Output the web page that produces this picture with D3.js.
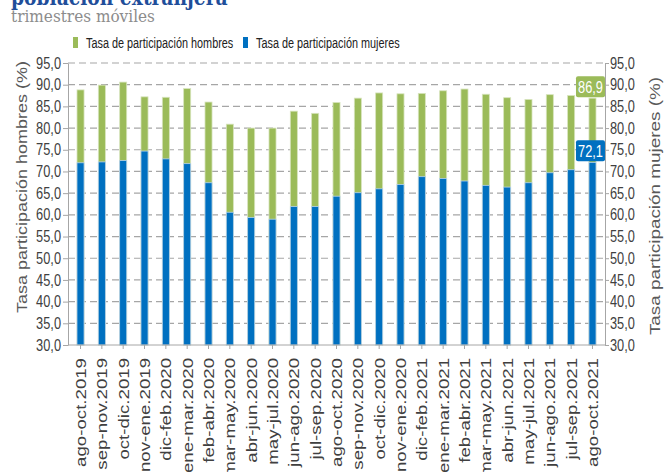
<!DOCTYPE html>
<html lang="es">
<head>
<meta charset="utf-8">
<title>Tasa de participación población extranjera</title>
<script src="https://cdn.jsdelivr.net/npm/d3@7"></script>
<style>
  body { margin: 0; background: #fff; }
  svg text { font-family: "Liberation Sans", Arial, sans-serif; }
</style>
</head>
<body>
<script>
// trimestres moviles
var periodos = ["ago-oct.2019", "sep-nov.2019", "oct-dic.2019", "nov-ene.2019", "dic-feb.2020",
  "ene-mar.2020", "feb-abr.2020", "mar-may.2020", "abr-jun.2020", "may-jul.2020",
  "jun-ago.2020", "jul-sep.2020", "ago-oct.2020", "sep-nov.2020", "oct-dic.2020",
  "nov-ene.2020", "dic-feb.2021", "ene-mar.2021", "feb-abr.2021", "mar-may.2021",
  "abr-jun.2021", "may-jul.2021", "jun-ago.2021", "jul-sep.2021", "ago-oct.2021"];

var hombres = [88.8, 89.9, 90.6, 87.2, 87.1, 89.1, 86.0, 80.9, 80.0, 80.0,
  83.9, 83.4, 85.9, 86.9, 88.1, 87.9, 88.0, 88.6, 89.0, 87.8,
  87.0, 86.6, 87.7, 87.5, 86.9];

var mujeres = [72.0, 72.2, 72.5, 74.7, 72.9, 71.8, 67.4, 60.6, 59.4, 59.0,
  61.9, 61.9, 64.3, 65.1, 66.0, 67.0, 68.8, 68.4, 67.8, 66.8,
  66.4, 67.4, 69.7, 70.4, 72.1];

var yTicks = [30, 35, 40, 45, 50, 55, 60, 65, 70, 75, 80, 85, 90, 95];

var W = 664, H = 472;
var mLeft = 68, mRight = 605, mTop = 63, mBottom = 345;
var verde = "#9bbb59", azul = "#0070c0";
var fmt = function(v) { return d3.format(".1f")(v).replace(".", ","); };

// el grafico original esta estirado en vertical: los textos se comprimen en x
var sx = 0.8;

var svg = d3.select("body").append("svg")
  .attr("width", W)
  .attr("height", H);

var x = d3.scaleBand()
  .domain(periodos)
  .range([69, 604])
  .paddingInner(0.67)
  .paddingOuter(0.375);

var y = d3.scaleLinear()
  .domain([30, 95])
  .range([mBottom, mTop]);

// titulo (cortado arriba)
svg.append("text")
  .attr("transform", "translate(11,5) scale(0.85,1)")
  .style("font-family", "'DejaVu Serif', 'Liberation Serif', serif")
  .style("font-weight", "bold")
  .style("font-size", "22px")
  .attr("fill", "#1f4e9a")
  .text("población extranjera");

svg.append("text")
  .attr("transform", "translate(11,22) scale(0.9,1)")
  .style("font-family", "'DejaVu Serif', 'Liberation Serif', serif")
  .style("font-size", "17px")
  .attr("fill", "#8c8c8c")
  .text("trimestres móviles");

// leyenda
var leyenda = [
  { nombre: "Tasa de participación hombres", color: verde, x: 73 },
  { nombre: "Tasa de participación mujeres", color: azul, x: 243 }
];
var lg = svg.append("g").selectAll("g").data(leyenda).enter().append("g")
  .attr("transform", function(d) { return "translate(" + d.x + ",37)"; });
lg.append("rect").attr("width", 5).attr("height", 11).attr("fill", function(d) { return d.color; });
lg.append("text")
  .attr("transform", "translate(13,11) scale(0.75,1)")
  .style("font-size", "14.5px").attr("fill", "#222")
  .text(function(d) { return d.nombre; });

// rejilla
svg.append("g").selectAll("line").data(yTicks.slice(1)).enter().append("line")
  .attr("x1", mLeft).attr("x2", mRight)
  .attr("y1", function(d) { return y(d); })
  .attr("y2", function(d) { return y(d); })
  .attr("stroke", "#a6a6a6")
  .attr("stroke-width", 1.2)
  .attr("stroke-dasharray", "7,4");

// barras hombres
svg.append("g").selectAll("rect").data(hombres).enter().append("rect")
  .attr("x", function(d, i) { return x(periodos[i]); })
  .attr("y", function(d) { return y(d); })
  .attr("width", x.bandwidth())
  .attr("height", function(d) { return y(30) - y(d); })
  .attr("fill", verde)
  .attr("stroke", "#d7e4bd")
  .attr("stroke-width", 0.8);

// barras mujeres
svg.append("g").selectAll("rect").data(mujeres).enter().append("rect")
  .attr("x", function(d, i) { return x(periodos[i]); })
  .attr("y", function(d) { return y(d); })
  .attr("width", x.bandwidth())
  .attr("height", function(d) { return y(30) - y(d); })
  .attr("fill", azul)
  .attr("stroke", "#b9d3ea")
  .attr("stroke-width", 0.8);

// ejes
var axisColor = "#a6a6a6", textColor = "#404040";
function estilo(g) {
  g.selectAll("path, line").attr("stroke", axisColor);
  g.selectAll("text").attr("fill", textColor)
    .style("font-family", "'Liberation Sans', Arial, sans-serif");
}

var yLeft = svg.append("g")
  .attr("transform", "translate(" + mLeft + ",0)")
  .call(d3.axisLeft(y).tickValues(yTicks).tickFormat(fmt).tickSize(5).tickSizeOuter(0))
  .call(estilo);
yLeft.selectAll("text")
  .style("font-size", "16px")
  .attr("x", -7 / sx)
  .attr("transform", "scale(" + sx + ",1)");

var yRight = svg.append("g")
  .attr("transform", "translate(" + mRight + ",0)")
  .call(d3.axisRight(y).tickValues(yTicks).tickFormat(fmt).tickSize(4).tickSizeOuter(0))
  .call(estilo);
yRight.selectAll("text")
  .style("font-size", "16px")
  .attr("x", 5 / sx)
  .attr("transform", "scale(" + sx + ",1)");

var xAxis = svg.append("g")
  .attr("transform", "translate(0," + mBottom + ")")
  .call(d3.axisBottom(x).tickSize(4).tickSizeOuter(0))
  .call(estilo);
xAxis.select(".domain").attr("d", "M" + mLeft + ",0H" + mRight);
var xText = xAxis.selectAll("text")
  .style("font-size", "15.5px")
  .attr("text-anchor", "end")
  .attr("dy", "0.35em")
  .attr("y", 0);
// estirar las etiquetas a lo largo para que "ago-oct.2019" mida ~109px
var largo = xText.node().getComputedTextLength();
var sRot = 109 / largo;
xText
  .attr("transform", "rotate(-90) scale(" + sRot + ",1)")
  .attr("x", -13 / sRot);

// titulos de ejes
svg.append("text")
  .attr("transform", "translate(27,187) rotate(-90) scale(1.2,1)")
  .attr("text-anchor", "middle")
  .style("font-size", "15px").attr("fill", "#595959")
  .text("Tasa participación hombres (%)");

svg.append("text")
  .attr("transform", "translate(660,206) rotate(-90) scale(1.26,1)")
  .attr("text-anchor", "middle")
  .style("font-size", "15px").attr("fill", "#595959")
  .text("Tasa participación mujeres (%)");

// etiquetas del ultimo periodo
var ultimo = periodos[periodos.length - 1];
var etiquetas = [
  { v: hombres[hombres.length - 1], color: verde },
  { v: mujeres[mujeres.length - 1], color: azul }
];
var eg = svg.append("g").selectAll("g").data(etiquetas).enter().append("g")
  .attr("transform", function(d) {
    return "translate(" + (x(ultimo) + x.bandwidth() / 2 - 2) + "," + (y(d.v) - 1) + ")";
  });
eg.append("rect")
  .attr("x", -14.5).attr("y", -21)
  .attr("width", 29).attr("height", 21)
  .attr("rx", 2)
  .attr("fill", function(d) { return d.color; });
eg.append("text")
  .attr("transform", "translate(0,-4.5) scale(0.8,1)")
  .attr("text-anchor", "middle")
  .style("font-size", "16px")
  .attr("fill", "#fff")
  .text(function(d) { return fmt(d.v); });
</script>
</body>
</html>
